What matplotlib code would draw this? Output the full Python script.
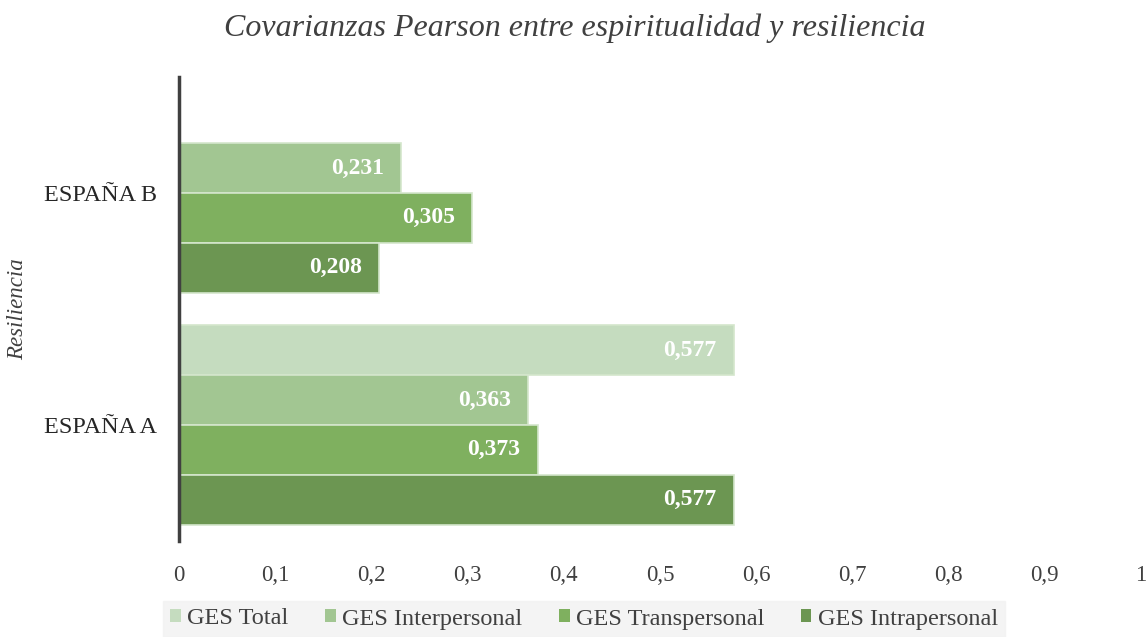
import numpy as np
import matplotlib.pyplot as plt
from matplotlib.patches import Patch

plt.rcParams['font.family'] = ['Liberation Serif', 'DejaVu Serif']

# datos
grupos = ['ESPAÑA A', 'ESPAÑA B']
series = ['GES Total', 'GES Interpersonal', 'GES Transpersonal', 'GES Intrapersonal']
ges_total = [0.577, np.nan]
ges_inter = [0.363, 0.231]
ges_trans = [0.373, 0.305]
ges_intra = [0.577, 0.208]
colores = ['#c5dcbf', '#a2c692', '#7fb05f', '#6c9652']

valores = [ges_total, ges_inter, ges_trans, ges_intra]

fig = plt.figure(figsize=(11.48, 6.37), dpi=100)
ax = fig.add_axes([179 / 1148, 1 - 541 / 637, (1141 - 179) / 1148, (541 - 77) / 637])

y = np.arange(len(grupos))
h = 0.86 / 4
offsets = [1.5 * h, 0.5 * h, -0.5 * h, -1.5 * h]

for vals, off, col in zip(valores, offsets, colores):
    bars = ax.barh(y + off, vals, height=h, color=col, edgecolor='#d4e6cc', linewidth=1.2)
    for b, v in zip(bars, vals):
        if np.isnan(v):
            continue
        ax.text(v - 0.018, b.get_y() + b.get_height() / 2, f'{v:.3f}'.replace('.', ','),
                ha='right', va='center', color='white', fontsize=17, fontweight='bold')

ax.set_xlim(0, 1)
ax.set_ylim(-0.5, 1.5)
ticks = np.arange(0, 1.01, 0.1)
ax.set_xticks(ticks)
ax.set_xticklabels([str(int(round(t))) if t in (0, 1) else f'{t:.1f}'.replace('.', ',')
                    for t in ticks], fontsize=16.5, color='#404040')
ax.set_yticks(y)
ax.set_yticklabels(grupos, fontsize=17.5, color='#262626')
ax.tick_params(axis='both', length=0)
ax.tick_params(axis='y', pad=16)
ax.tick_params(axis='x', pad=17)

for s in ['top', 'right', 'bottom']:
    ax.spines[s].set_visible(False)
ax.spines['left'].set_color('#404040')
ax.spines['left'].set_linewidth(2.5)

ax.set_ylabel('Resiliencia', fontsize=16.5, style='italic', color='#404040')
ax.yaxis.set_label_coords((28 - 179) / 962, 0.5)
fig.suptitle('Covarianzas Pearson entre espiritualidad y resiliencia', fontsize=23,
             style='italic', color='#404040', x=575 / 1148, y=1 - 28 / 637, va='center')

handles = [Patch(facecolor=c, label=s) for c, s in zip(colores, series)]
leg = fig.legend(handles=handles, loc='center', bbox_to_anchor=(584 / 1148, 1 - 619 / 637),
                 ncol=4, frameon=True, fontsize=17.5, handlelength=0.45, handleheight=0.45,
                 handletextpad=0.25, columnspacing=1.5, borderpad=0.3, fancybox=False)
leg.get_frame().set_facecolor('#f2f2f2')
leg.get_frame().set_edgecolor('#f2f2f2')
for t in leg.get_texts():
    t.set_color('#404040')

plt.savefig('out.png', dpi=100)
